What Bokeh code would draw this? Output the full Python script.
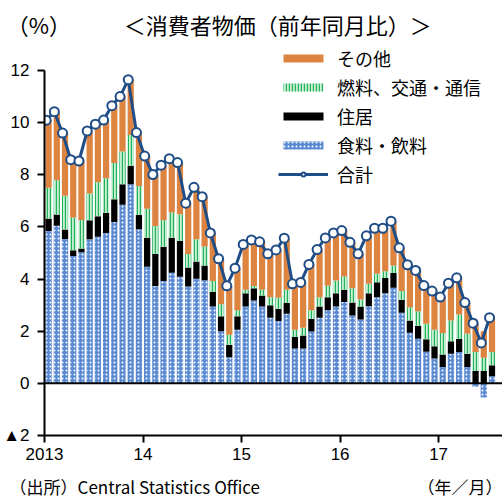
import numpy as np
from bokeh.plotting import figure
from bokeh.models import (ColumnDataSource, Range1d, FixedTicker, Span,
                          Legend, LegendItem, LinearAxis)
from bokeh.embed import file_html
from bokeh.resources import INLINE

# ---- data (year-on-year %, monthly Jan 2013 - Jul 2017) ----
months = [f"{y}-{m:02d}" for y in range(2013, 2018) for m in range(1, 13)][:55]

food = [5.84, 6.05, 5.54, 4.89, 5.03, 5.53, 5.62, 5.77, 6.19, 6.85, 7.64, 5.91,
        4.47, 3.73, 3.93, 4.24, 4.09, 3.72, 4.01, 3.96, 2.95, 2.00, 1.00, 2.06,
        2.95, 3.18, 2.95, 2.52, 2.39, 2.67, 1.34, 1.34, 1.99, 2.52, 2.80, 2.95,
        3.12, 2.60, 2.45, 2.96, 3.30, 3.46, 3.67, 2.71, 1.94, 1.71, 1.21, 0.95,
        0.63, 1.14, 1.20, 0.63, -0.13, -0.54, 0.27]
housing = [0.48, 0.43, 0.36, 0.22, 0.14, 0.73, 0.79, 0.77, 0.87, 0.79, 0.71, 0.55,
           1.12, 1.23, 1.31, 1.35, 1.38, 0.72, 0.66, 0.56, 0.55, 0.57, 0.48, 0.51,
           0.51, 0.47, 0.42, 0.48, 0.47, 0.41, 0.44, 0.50, 0.49, 0.43, 0.50, 0.51,
           0.47, 0.50, 0.50, 0.50, 0.58, 0.58, 0.56, 0.50, 0.47, 0.50, 0.48, 0.47,
           0.48, 0.48, 0.50, 0.51, 0.47, 0.47, 0.42]
fuel = [1.18, 1.31, 1.30, 1.25, 1.10, 1.02, 1.30, 1.33, 1.39, 1.25, 1.18, 1.11,
        1.11, 1.08, 1.02, 0.96, 1.02, 0.52, 0.86, 0.73, 0.43, 0.46, 0.38, 0.23,
        0.13, 0.08, 0.22, 0.30, 0.42, 0.51, 0.28, 0.29, 0.32, 0.35, 0.44, 0.49,
        0.51, 0.55, 0.27, 0.36, 0.32, 0.26, 0.29, 0.33, 0.51, 0.56, 0.60, 0.64,
        0.82, 0.79, 0.94, 0.76, 0.73, 0.51, 0.51]
other = [2.59, 2.63, 2.40, 2.22, 2.26, 2.40, 2.23, 2.23, 2.20, 2.11, 2.12, 2.05,
         2.02, 1.97, 2.11, 2.07, 1.98, 1.95, 1.99, 1.91, 1.84, 1.75, 1.88, 1.62,
         1.74, 1.77, 1.84, 1.67, 1.84, 1.98, 1.76, 1.74, 1.76, 1.83, 1.84, 1.82,
         1.76, 1.76, 1.75, 1.84, 1.75, 1.65, 1.70, 1.66, 1.63, 1.56, 1.46, 1.48,
         1.38, 1.43, 1.41, 1.20, 1.10, 1.02, 1.32]
total = [10.09, 10.42, 9.60, 8.58, 8.53, 9.68, 9.94, 10.10, 10.65, 11.00, 11.65, 9.62,
         8.72, 8.01, 8.37, 8.62, 8.47, 6.91, 7.52, 7.16, 5.77, 4.78, 3.74, 4.42,
         5.33, 5.50, 5.43, 4.97, 5.12, 5.57, 3.82, 3.87, 4.56, 5.13, 5.58, 5.77,
         5.86, 5.41, 4.97, 5.66, 5.95, 5.95, 6.22, 5.20, 4.55, 4.33, 3.75, 3.54,
         3.31, 3.84, 4.05, 3.10, 2.31, 1.55, 2.52]

year_ticks = [0, 12, 24, 36, 48]
year_labels = ["2013", "14", "15", "16", "17"]
y_ticks = [-2, 0, 2, 4, 6, 8, 10, 12]
y_labels = ["▲2", "0", "2", "4", "6", "8", "10", "12"]

series_names = ["その他", "燃料、交通・通信", "住居", "食料・飲料", "合計"]
title_text = "＜消費者物価（前年同月比）＞"
unit_text = "（%）"
period_text = "（年／月）"
source_text = "（出所）Central Statistics Office"

# ---- stacking ----
n = len(months)
f = np.array(food); h = np.array(housing); fu = np.array(fuel); o = np.array(other)
xc = np.arange(n) + 0.5
base = np.maximum(f, 0)
h_top = base + h
fu_top = h_top + fu
o_top = fu_top + o

src = ColumnDataSource(dict(x=xc, xl=np.arange(n) + 0.2, food=f, zero=np.zeros(n),
                            base=base, h_top=h_top, fu_top=fu_top, o_top=o_top,
                            total=np.array(total), month=months))

JP = "Noto Sans CJK JP"
NUM = "Liberation Sans"

p = figure(width=502, height=502, output_backend="svg", toolbar_location=None,
           x_range=Range1d(0, 55.78), y_range=Range1d(-2, 12.96),
           min_border_left=43, min_border_right=0, min_border_top=45,
           min_border_bottom=67, outline_line_color=None)
p.xgrid.visible = False
p.ygrid.visible = False

W = 0.76
COL_OTHER = "#dd8440"
COL_BLUE = "#5a8ad2"
COL_LINE = "#1f4d86"

r_food = p.vbar(x="x", bottom="zero", top="food", width=W, source=src,
                fill_color=COL_BLUE, line_color=None,
                hatch_pattern="dot", hatch_color="white", hatch_scale=4,
                hatch_weight=1.4)
r_house = p.vbar(x="x", bottom="base", top="h_top", width=W, source=src,
                 fill_color="black", line_color=None)
r_fuel = p.vbar(x="x", bottom="h_top", top="fu_top", width=W, source=src,
                fill_color="#c9efd4", line_color=None,
                hatch_pattern="vertical_line", hatch_color="#22b35a",
                hatch_scale=3, hatch_weight=1.4)
r_other = p.vbar(x="x", bottom="fu_top", top="o_top", width=W, source=src,
                 fill_color=COL_OTHER, line_color=None)

p.add_layout(Span(location=0, dimension="width", line_color="black", line_width=2))

r_line = p.line(x="xl", y="total", source=src, line_color=COL_LINE, line_width=3)
r_pts = p.scatter(x="xl", y="total", source=src, size=9, fill_color="white",
                  line_color=COL_LINE, line_width=2)

# main axes
xax = p.xaxis[0]
yax = p.yaxis[0]
xax.ticker = FixedTicker(ticks=year_ticks)
xax.major_label_overrides = {t: l for t, l in zip(year_ticks, year_labels)}
yax.ticker = FixedTicker(ticks=y_ticks)
yax.major_label_overrides = {t: l for t, l in zip(y_ticks, y_labels)}
yax.bounds = (-2, 12)
for ax in (xax, yax):
    ax.axis_line_width = 2
    ax.axis_line_color = "black"
    ax.major_tick_line_color = "black"
    ax.major_tick_line_width = 2
    ax.major_tick_in = 0
    ax.major_tick_out = 7
    ax.minor_tick_line_color = None
    ax.major_label_text_font = NUM
    ax.major_label_text_font_size = "17px"
    ax.major_label_text_color = "black"
yax.major_label_standoff = 8
xax.major_label_standoff = 5


def text_axis(ticks, labels, size, standoff):
    ax = LinearAxis(ticker=FixedTicker(ticks=ticks),
                    major_label_overrides={t: l for t, l in zip(ticks, labels)},
                    axis_line_color=None, major_tick_line_color=None,
                    minor_tick_line_color=None, major_tick_in=0, major_tick_out=0,
                    major_label_standoff=standoff, major_label_text_font=JP,
                    major_label_text_font_size=size, major_label_text_color="black")
    return ax

# title row (above the plot) and the source / unit row (below the axis)
p.add_layout(text_axis([0, 28.4], [unit_text + "\u3000", title_text], "22px", 6), "above")
p.add_layout(text_axis([11, 50.6], [source_text, period_text], "17px", 11), "below")

legend = Legend(items=[
    LegendItem(label=series_names[0], renderers=[r_other]),
    LegendItem(label=series_names[1], renderers=[r_fuel]),
    LegendItem(label=series_names[2], renderers=[r_house]),
    LegendItem(label=series_names[3], renderers=[r_food]),
    LegendItem(label=series_names[4], renderers=[r_line, r_pts]),
], location=(234, 248), border_line_color=None, background_fill_alpha=0,
   padding=0, margin=0, spacing=3, glyph_width=50, glyph_height=10,
   label_height=20, label_standoff=9, label_text_font=JP,
   label_text_font_size="18px", label_text_color="black")
p.add_layout(legend)

open("out.html", "w").write(file_html(p, INLINE))
